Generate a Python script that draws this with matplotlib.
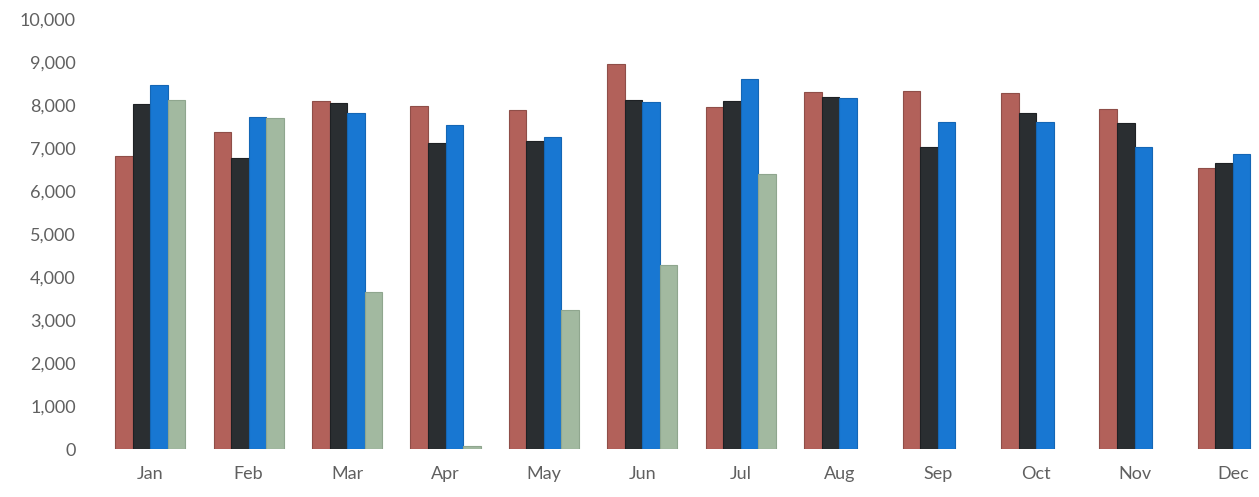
import matplotlib
matplotlib.use("Agg")
from matplotlib import pyplot as plt
import numpy as np

months = ["Jan", "Feb", "Mar", "Apr", "May", "Jun",
          "Jul", "Aug", "Sep", "Oct", "Nov", "Dec"]

series_red = [6810, 7370, 8090, 7980, 7880, 8950, 7950, 8300, 8330, 8280, 7900, 6530]
series_black = [8020, 6770, 8050, 7120, 7160, 8110, 8090, 8190, 7020, 7810, 7580, 6650]
series_blue = [8465, 7720, 7810, 7530, 7250, 8070, 8600, 8160, 7600, 7600, 7020, 6860]
series_green = [8116, 7700, 3650, 70, 3230, 4280, 6400, np.nan, np.nan, np.nan, np.nan, np.nan]

yticks = [0, 1000, 2000, 3000, 4000, 5000, 6000, 7000, 8000, 9000, 10000]

plt.rcParams['font.family'] = ['Lato', 'DejaVu Sans']

fig = plt.figure(figsize=(12.59, 4.97), dpi=100)
ax = fig.add_axes([101 / 1259, 48 / 497, (1259 - 101) / 1259, (449 - 19) / 497])

x = np.arange(len(months))
w = 0.178
colors = ["#b2615a", "#2a2e31", "#1877d2", "#a2b9a0"]
edges = ["#8f4e48", "#1e2124", "#1466b5", "#8fa68e"]
for i, (vals, c, e) in enumerate(zip([series_red, series_black, series_blue, series_green], colors, edges)):
    ax.bar(x + (i - 1.5) * w, vals, width=w, color=c, edgecolor=e, linewidth=0.8, zorder=2)

ax.set_xlim(-0.5, (1259 - 150) / 98.45)
ax.set_ylim(0, 10000)
ax.set_yticks(yticks)
ax.set_yticklabels([f"{v:,}" for v in yticks])
ax.set_xticks(x)
ax.set_xticklabels(months)
ax.tick_params(axis="both", length=0, labelsize=13, labelcolor="#606060")
ax.tick_params(axis="y", pad=18)
ax.tick_params(axis="x", pad=12)
for s in ax.spines.values():
    s.set_visible(False)

fig.savefig("out.png", dpi=100)
